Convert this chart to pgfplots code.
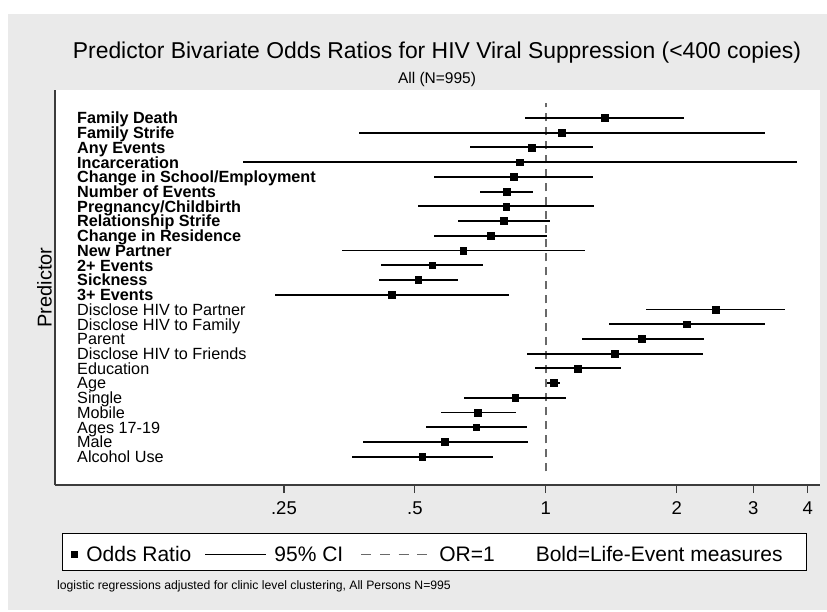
\documentclass[border=0pt]{standalone}
\usepackage{pgfplots}
\usepackage{pgfplotstable}
\pgfplotsset{compat=1.18}
\usepackage{fontspec}
\setmainfont{Liberation Sans}
\definecolor{bggray}{RGB}{234,234,234}
\definecolor{axgray}{RGB}{60,60,60}
\definecolor{dashgray}{RGB}{105,105,105}
\newcommand{\fs}[1]{\fontsize{#1}{#1}\selectfont}
\pgfplotstableread{
y or lo hi
24 1.364 0.898 2.079
23 1.090 0.372 3.186
22 0.927 0.669 1.287
21 0.870 0.201 3.774
20 0.843 0.553 1.287
19 0.812 0.706 0.932
18 0.811 0.509 1.294
17 0.799 0.627 1.021
16 0.746 0.553 1.007
15 0.646 0.340 1.231
14 0.548 0.419 0.716
13 0.509 0.413 0.627
12 0.443 0.239 0.824
11 2.454 1.704 3.555
10 2.109 1.396 3.191
9 1.665 1.208 2.307
8 1.443 0.906 2.304
7 1.184 0.943 1.489
6 1.041 1.007 1.077
5 0.850 0.648 1.113
4 0.698 0.573 0.852
3 0.692 0.530 0.906
2 0.586 0.379 0.909
1 0.520 0.358 0.757
}\ordata
\begin{document}
\begin{tikzpicture}[x=1pt,y=1pt]
\fill[white] (0,0) rectangle (827,-611);
\fill[bggray] (8,-14) rectangle (827,-610);
\node[anchor=base, font=\fs{22.9}, inner sep=0pt] at (437,-58) {Predictor Bivariate Odds Ratios for HIV Viral Suppression (<400 copies)};
\node[anchor=base, font=\fs{15.5}, inner sep=0pt] at (437,-83) {All (N=995)};
\node[anchor=base west, font=\fs{12.2}, inner sep=0pt] at (57,-589) {logistic regressions adjusted for clinic level clustering, All Persons N=995};
\begin{axis}[
  at={(55pt,-485pt)}, anchor=south west,
  scale only axis, width=765pt, height=395pt,
  xmode=log, xmin=0.0744, xmax=4.27,
  ymin=-0.92, ymax=25.9,
  clip=false,
  axis background/.style={fill=white},
  axis x line*=bottom, axis y line*=left,
  axis line style={-, draw=axgray, line width=1.2pt},
  xtick={0.25,0.5,1,2,3,4}, xticklabels={.25,.5,1,2,3,4},
  xminorticks=false, yminorticks=false,
  tick align=outside, major tick length=8pt,
  xtick style={draw=axgray, line width=1.2pt},
  ytick style={draw=none},
  xticklabel style={font=\fs{18.5}, inner sep=0pt, anchor=north, yshift=-8.7pt},
  ytick={1,...,24},
  yticklabels={Alcohol Use, Male, Ages 17-19, Mobile, Single, Age, Education, Disclose HIV to Friends, Parent, Disclose HIV to Family, Disclose HIV to Partner, \textbf{3+ Events}, \textbf{Sickness}, \textbf{2+ Events}, \textbf{New Partner}, \textbf{Change in Residence}, \textbf{Relationship Strife}, \textbf{Pregnancy/Childbirth}, \textbf{Number of Events}, \textbf{Change in School/Employment}, \textbf{Incarceration}, \textbf{Any Events}, \textbf{Family Strife}, \textbf{Family Death}},
  yticklabel style={font=\fs{16.2}, inner sep=0pt, anchor=base west, xshift=30pt, yshift=-5.9pt},
  ylabel={Predictor},
  ylabel style={at={(axis description cs:-0.004,0.5)}, anchor=south, inner sep=0pt, font=\fs{20}},
  legend style={at={(axis description cs:0.00915,-0.1215)}, anchor=north west, draw=black, line width=0.8pt, fill=white, inner sep=0pt, legend columns=4, font=\fs{21}, nodes={inner sep=0pt, text height=28pt, text depth=9pt, draw=none}, column sep=0pt},
]
\addplot[forget plot, dashgray, line width=1.5pt, dash pattern=on 8pt off 6pt] coordinates {(1,0) (1,25)};
\addplot[forget plot, only marks, mark=square*, mark size=3.4pt, mark options={fill=black, draw=black, solid},
  error bars/.cd, x dir=both, x explicit, error mark=none, error bar style={draw=black, solid, line width=1.9pt}]
  table[x=or, y=y, x error plus expr=\thisrow{hi}-\thisrow{or}, x error minus expr=\thisrow{or}-\thisrow{lo}] {\ordata};
\addlegendimage{legend image code/.code={\path[draw=none] (0pt,0pt) -- (24pt,0pt); \fill[black, draw=none] (8.75pt,-5.75pt) rectangle (15.25pt,0.75pt);}}
\addlegendentry{Odds Ratio}
\addlegendimage{legend image code/.code={\path[draw=none] (0pt,0pt) -- (83pt,0pt); \draw[black, solid, line width=1.7pt] (14pt,-2.5pt) -- (75pt,-2.5pt);}}
\addlegendentry{95\% CI}
\addlegendimage{legend image code/.code={\path[draw=none] (0pt,0pt) -- (96pt,0pt); \draw[dashgray, line width=1.5pt, dash pattern=on 10pt off 8.7pt] (18pt,-2.5pt) -- (84pt,-2.5pt);}}
\addlegendentry{OR=1}
\addlegendimage{legend image code/.code={\path[draw=none] (0pt,0pt) -- (41pt,0pt);}}
\addlegendentry{Bold=Life-Event measures\hspace*{24pt}}
\end{axis}
\end{tikzpicture}
\end{document}
